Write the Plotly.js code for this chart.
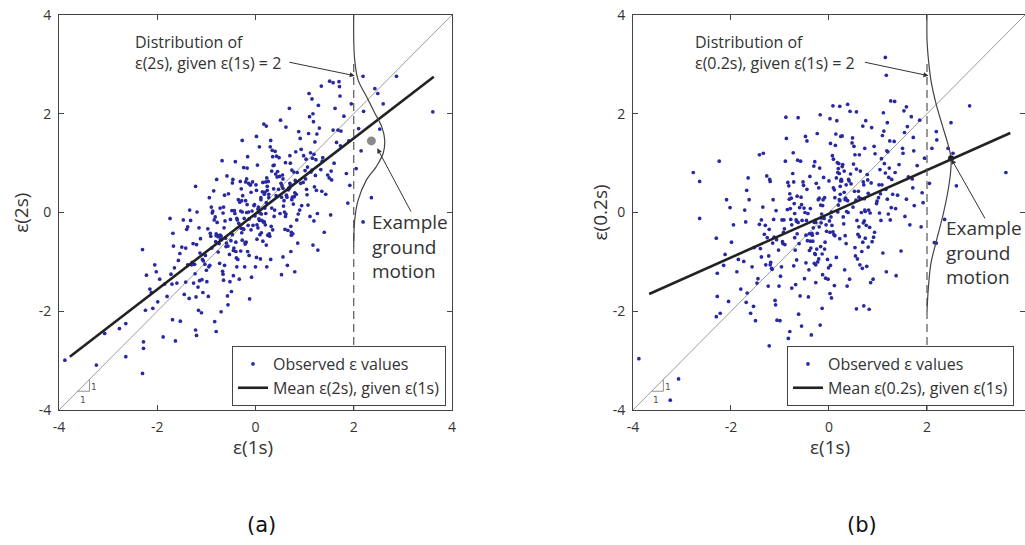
<!DOCTYPE html>
<html><head><meta charset="utf-8">
<script src="https://cdn.plot.ly/plotly-3.0.1.min.js"></script>
<style>html,body{margin:0;padding:0;background:#fff}#chart{width:1025px;height:545px}</style>
</head><body><div id="chart"></div>
<script>
// ε(1s) values (shared x for both panels)
const eps1 = [
-3.88,-3.24,-3.07,-2.77,-2.64,-2.64,-2.30,-2.28,-2.28,-2.30,
-2.24,-2.09,-2.05,-2.22,-1.99,-1.88,-2.15,-1.95,-2.12,-1.80,-2.02,-1.85,
-1.72,-1.45,-1.32,-1.60,-1.27,-1.53,-1.38,-1.67,-1.42,-1.74,-1.35,-1.57,-1.30,-1.50,-1.63,-1.40,-1.70,-1.47,-1.26,-1.65,-1.69,-1.42,-1.29,
-1.22,-0.95,-0.82,-1.10,-0.77,-1.03,-0.88,-1.17,-0.92,-1.24,-0.85,-1.07,-0.80,-1.00,-1.13,-0.90,-1.20,-0.97,-0.76,-1.15,-1.14,-0.76,-0.96,-1.19,-0.89,-1.12,-0.99,-0.79,-1.06,-0.84,-1.23,-0.91,-1.16,-0.87,-1.02,-0.78,-1.09,-0.81,-0.94,-1.21,-1.20,-0.93,-0.80,-1.08,
-0.72,-0.45,-0.32,-0.60,-0.27,-0.53,-0.38,-0.67,-0.42,-0.74,-0.35,-0.57,-0.30,-0.50,-0.63,-0.40,-0.70,-0.47,-0.26,-0.65,-0.64,-0.27,-0.46,-0.69,-0.39,-0.62,-0.49,-0.29,-0.56,-0.34,-0.73,-0.41,-0.66,-0.37,-0.52,-0.28,-0.59,-0.31,-0.44,-0.71,-0.70,-0.43,-0.30,-0.58,-0.25,-0.51,-0.36,-0.65,-0.40,-0.72,-0.33,-0.55,-0.28,-0.48,-0.61,-0.38,-0.68,-0.45,-0.27,-0.63,-0.66,-0.29,-0.47,
-0.22,0.05,0.18,-0.10,0.23,-0.03,0.12,-0.17,0.08,-0.24,0.15,-0.07,0.20,0.01,-0.13,0.10,-0.20,0.03,0.24,-0.15,-0.14,0.25,0.04,-0.19,0.11,-0.12,0.02,0.21,-0.06,0.16,-0.23,0.09,-0.16,0.13,-0.02,0.22,-0.09,0.19,0.06,-0.21,-0.18,0.07,0.19,-0.08,0.23,-0.01,0.14,-0.16,0.11,-0.21,0.17,-0.05,0.21,0.02,-0.11,0.12,-0.18,0.05,0.24,-0.13,-0.17,0.22,0.03,-0.20,0.09,-0.14,0.00,0.18,-0.09,0.15,-0.24,0.08,
0.28,0.55,0.68,0.40,0.73,0.47,0.62,0.33,0.58,0.26,0.65,0.43,0.70,0.50,0.37,0.60,0.30,0.53,0.74,0.35,0.36,0.75,0.54,0.31,0.61,0.38,0.51,0.71,0.44,0.66,0.27,0.59,0.34,0.63,0.48,0.72,0.41,0.69,0.56,0.29,0.31,0.57,0.70,0.42,0.73,0.49,0.64,0.35,0.61,0.27,0.67,0.45,0.72,0.52,0.39,0.62,0.32,0.56,0.74,0.38,0.33,0.71,0.53,
0.78,1.05,1.18,0.90,1.23,0.97,1.12,0.83,1.08,0.76,1.15,0.93,1.20,1.01,0.87,1.10,0.80,1.03,1.24,0.85,0.86,1.25,1.04,0.81,1.11,0.88,1.02,1.21,0.94,1.16,0.77,1.09,0.84,1.13,0.98,1.22,0.91,1.19,1.06,0.79,0.82,1.07,1.19,0.92,
1.28,1.55,1.68,1.40,1.73,1.47,1.62,1.33,1.58,1.26,1.65,1.43,1.70,1.50,1.37,1.60,1.30,1.53,1.74,1.35,1.36,1.72,1.54,
1.88,1.85,2.05,2.19,2.19,1.90,2.10,1.95,2.15,1.80,2.20,1.92,2.36,2.53,2.49,2.43,2.60,2.87,3.61,
1.58,1.51,1.71,1.34,0.69,0.22,0.02,-1.34,-1.38,-1.68,-1.54,0.80,0.56,1.27,1.17,-1.22,-0.80,-0.83,-0.56,1.15,1.17
];
// ε(2s) values (panel a)
const eps2 = [
-2.99,-3.09,-2.45,-2.35,-2.92,-2.25,-3.26,-2.62,-2.75,-0.75,
-1.98,-1.94,-1.06,-1.27,-1.81,-2.52,-1.55,-1.35,-1.62,-1.70,-1.20,-1.45,
-1.25,-1.66,-0.16,-1.43,-0.63,-2.20,-1.06,-0.68,-1.41,-0.12,-1.74,-0.97,-1.06,-0.70,-2.60,-0.34,-1.45,-0.15,-1.43,-1.12,-2.17,-0.72,-1.01,
0.53,-1.10,-0.09,-2.03,-0.47,-1.05,-0.01,-1.51,-0.42,-1.05,0.44,-1.62,-0.43,-1.17,-0.82,0.11,-2.49,-0.33,-0.80,-0.31,-1.38,-0.49,-1.70,0.01,-0.72,-0.53,-1.40,0.67,-0.98,-0.15,-1.24,-0.48,-1.98,0.03,-0.87,-0.20,-1.36,-0.59,0.30,-1.71,-0.65,-1.07,-0.47,-0.95,
0.09,-1.28,0.21,-0.69,1.46,-0.85,-0.12,-1.19,-0.02,-0.63,0.26,-1.69,0.03,-0.57,0.35,-0.79,-0.48,-0.45,0.34,-1.37,-0.31,-0.56,0.67,-0.55,-0.92,-0.17,-1.60,0.48,-0.68,-0.22,-1.03,1.03,-1.25,-0.15,-1.40,0.24,-0.62,0.63,-0.72,-0.54,-2.01,0.04,-0.78,0.74,-0.33,-0.14,-0.95,0.11,-0.60,-0.46,-1.35,0.38,-0.41,0.04,-0.52,-1.10,1.05,-0.77,0.01,-1.07,-0.01,-0.32,0.60,
-1.10,0.07,-0.19,0.56,-1.10,0.14,-0.41,0.16,-0.16,0.91,-0.58,0.03,-0.25,0.56,-0.13,-0.94,0.62,-0.25,0.53,-0.26,0.01,-0.46,0.96,-0.60,0.30,-1.75,0.45,-0.02,0.62,-0.19,-0.12,-0.45,1.13,-0.16,0.16,-0.66,0.41,0.09,0.11,-0.64,0.68,-0.13,0.41,-1.31,0.70,-0.07,0.42,-0.79,0.26,-0.61,1.79,-0.26,0.62,-0.91,0.56,-0.03,0.00,-0.31,0.45,-0.87,0.90,0.20,-0.54,0.24,-0.01,0.59,-1.10,0.37,-0.35,0.61,-0.34,1.33,
-0.43,0.76,0.50,1.24,-0.40,0.47,-0.03,0.84,0.24,0.63,-1.07,1.14,0.59,-0.02,0.48,-0.34,1.33,0.31,0.86,-0.35,0.95,0.31,0.54,-0.95,1.01,-0.08,1.87,0.54,0.72,-0.36,0.37,0.01,1.26,0.35,1.11,-0.79,0.78,0.49,0.68,-0.48,1.46,0.13,1.15,0.34,-0.46,0.73,0.31,1.13,-0.08,0.30,0.46,0.83,-0.28,0.59,0.05,1.73,-0.28,0.49,0.26,0.96,0.09,1.00,-1.26,
0.82,0.36,1.84,0.05,1.07,0.61,1.21,0.37,1.60,-0.43,0.86,1.28,0.52,0.85,-0.03,1.94,0.40,1.08,0.45,0.81,-0.62,1.59,0.47,0.65,-0.08,1.64,0.68,1.43,0.14,1.10,0.17,2.41,-0.15,0.82,1.15,0.75,1.50,-0.17,0.92,0.32,1.23,0.15,1.18,0.59,
2.17,0.66,1.67,-0.40,1.35,0.76,2.11,0.87,1.67,-0.02,1.42,0.37,2.65,0.70,1.11,1.00,1.71,-0.05,1.65,0.43,1.04,2.36,0.84,
0.19,0.79,0.89,2.76,-0.19,1.45,1.70,2.20,1.25,1.95,2.05,0.55,0.30,1.69,2.41,2.51,2.20,2.76,2.04,
2.63,2.66,2.55,2.56,2.11,1.75,1.54,0.05,-0.29,-0.42,-0.83,-1.20,-0.90,-0.76,-0.66,-2.38,-2.41,-2.21,-1.87,2.30,2.00
];
// ε(0.2s) values (panel b)
const eps02 = [
-2.96,-3.80,-3.37,0.81,-0.12,0.63,-2.11,-1.70,-1.23,-0.52,
1.04,0.26,-1.80,-2.04,-0.60,-1.20,-1.07,-0.25,-0.85,-1.55,0.10,-0.95,
0.05,-1.34,-0.44,-2.04,0.74,-0.71,-0.15,-1.63,1.17,-0.99,0.11,-1.10,-0.26,-2.19,0.26,-0.73,-0.19,-1.43,-0.51,0.70,-1.82,-0.24,-1.06,
-0.34,-0.59,0.54,-1.78,0.29,-0.76,1.93,-1.13,-0.15,-1.49,0.06,-0.55,0.38,-2.19,-0.14,-0.65,0.63,-1.10,-0.25,-0.62,0.26,-1.53,-0.15,-1.01,1.04,-0.50,-1.29,0.08,-2.18,0.61,-0.88,-0.33,-1.15,1.50,-1.49,-0.14,-1.87,0.27,-0.63,0.67,-1.06,-0.40,-2.41,0.04,
-1.08,1.45,-0.31,0.10,-1.06,0.62,-0.58,-0.15,-1.71,0.79,-0.42,0.31,-0.20,-1.34,1.92,-0.77,-0.02,-1.02,0.59,-0.43,1.06,-1.42,-0.16,-0.76,0.73,-2.06,0.00,-0.83,0.16,-0.46,1.21,-1.16,-0.18,-0.72,0.55,-0.16,-1.69,0.94,-0.57,0.18,-0.51,-0.02,-1.03,1.04,-0.74,0.09,-2.48,0.33,-0.43,0.62,-0.58,-0.16,-0.85,1.54,-0.63,0.08,-1.46,0.47,-0.20,-0.20,-0.96,1.03,-0.46,
0.26,-1.73,0.81,-0.12,0.53,-0.95,0.30,-0.69,2.16,-0.42,0.70,-1.33,0.99,-0.17,0.14,-0.45,0.29,-1.07,1.54,-0.03,-0.84,0.67,-0.09,0.90,-1.48,0.26,-0.40,0.79,-0.25,1.86,-1.00,0.50,-0.11,1.36,-1.35,0.24,-0.74,0.89,-0.26,0.50,-2.28,1.15,0.15,-0.60,0.37,-1.12,1.59,-0.21,0.46,-0.94,1.01,-0.38,0.26,-1.64,0.71,-0.47,1.98,0.01,0.64,-1.26,0.15,-0.53,1.40,-0.29,1.08,-1.94,0.64,0.01,0.30,-0.91,1.60,-0.39,
0.97,0.25,-1.13,0.67,0.05,1.41,-0.49,0.26,-0.94,0.64,0.28,2.05,-0.21,0.98,-1.49,0.43,-0.23,1.17,-0.52,0.56,0.02,1.86,-0.88,0.41,-0.29,0.24,1.34,-1.89,0.78,0.00,0.93,-0.44,0.29,-1.06,1.51,0.28,0.64,-0.60,2.04,-0.09,0.84,-0.16,0.62,-1.35,1.30,0.11,0.84,-0.63,0.31,1.55,-0.79,0.58,-0.17,0.43,0.00,1.17,-1.16,0.88,0.02,2.19,-0.47,0.56,-0.71,
0.77,0.38,1.25,-1.35,0.90,0.18,1.65,-0.30,0.56,-0.26,0.80,-0.40,1.23,0.30,1.72,-0.82,0.39,-0.01,1.45,-1.42,0.60,-0.15,0.87,0.05,2.02,-0.59,0.56,-0.03,1.19,0.47,-1.09,1.56,-0.01,0.99,0.23,0.71,-0.50,1.82,-0.16,0.66,-1.96,1.09,0.27,1.34,
0.67,-0.08,1.94,0.35,1.25,-0.78,0.72,1.44,0.27,2.26,-0.25,0.97,0.68,1.30,-1.28,1.74,0.37,2.06,0.14,0.81,0.08,1.52,1.62,
-0.29,1.87,0.59,1.64,-0.62,0.40,1.30,1.10,-0.61,0.95,1.47,0.20,-0.14,1.20,1.82,1.30,0.54,2.16,0.81,
2.14,1.20,0.50,2.25,1.75,2.15,1.90,1.20,-0.90,0.45,-1.90,-0.70,-1.95,0.10,-1.20,-2.70,-2.85,-2.55,-2.30,3.14,2.78
];

const tickVals = [-4, -2, 0, 2, 4];
const tickText = ['-4', '-2', '0', '2', '4'];
const unitX = [-4, 4], unitY = [-4, 4];
const meanAx = [-3.78, 3.63], meanAy = [-2.92, 2.75];
const meanBx = [-3.67, 3.70], meanBy = [-1.65, 1.61];
const dashX = [2, 2], dashY = [-4, 3.1];
const distAx = [2.00, 2.00, 2.02, 2.09, 2.26, 2.43, 2.57, 2.63, 2.60, 2.46, 2.26, 2.09, 2.02, 2.00];
const distAy = [4.00, 3.50, 3.09, 2.68, 2.35, 2.01, 1.74, 1.47, 1.20, 0.93, 0.66, 0.25, -0.15, -0.69];
const distBx = [2.00, 2.00, 2.03, 2.08, 2.18, 2.32, 2.42, 2.49, 2.48, 2.42, 2.32, 2.18, 2.08, 2.03, 2.00];
const distBy = [4.00, 3.50, 3.09, 2.68, 2.22, 1.74, 1.41, 1.10, 0.80, 0.39, -0.08, -0.62, -1.03, -1.50, -2.00];
const exampleA = {x: [2.36], y: [1.45]};
const exampleB = {x: [2.49], y: [1.10]};
const triX = [-3.62, -3.38, -3.38], triY = [-3.62, -3.62, -3.38];

const FONT = 'Open Sans, Noto Sans, sans-serif';
const TXT = '#333';
const AX = '#444';
const DOT = 'rgb(40,40,160)';

function axis(domain, anchor) {
  return {
    domain: domain, anchor: anchor, range: [-4, 4], tickvals: tickVals, ticktext: tickText,
    showgrid: false, zeroline: false, showline: true, linecolor: AX, linewidth: 1,
    mirror: 'ticks', ticks: 'inside', ticklen: 5, tickcolor: AX, ticklabelstandoff: 4,
    tickfont: {family: FONT, size: 14, color: TXT}, fixedrange: true
  };
}

const traces = [];
function panel(xa, ya, yVals, mX, mY, dX, dY, ex, exColor, exSize, legendId, meanName) {
  traces.push({x: unitX, y: unitY, xaxis: xa, yaxis: ya, mode: 'lines', line: {color: '#9a9a9a', width: 1}, showlegend: false, hoverinfo: 'skip'});
  traces.push({x: eps1, y: yVals, xaxis: xa, yaxis: ya, mode: 'markers', name: 'Observed ε values',
    marker: {color: DOT, size: 3.7}, legend: legendId, showlegend: true});
  traces.push({x: mX, y: mY, xaxis: xa, yaxis: ya, mode: 'lines', name: meanName,
    line: {color: '#222', width: 2.6}, legend: legendId, showlegend: true});
  traces.push({x: dashX, y: dashY, xaxis: xa, yaxis: ya, mode: 'lines', line: {color: '#555', width: 1.2, dash: '8px,5px'}, showlegend: false, hoverinfo: 'skip'});
  traces.push({x: dX, y: dY, xaxis: xa, yaxis: ya, mode: 'lines', line: {color: '#444', width: 1.2, shape: 'spline', smoothing: 1}, showlegend: false, hoverinfo: 'skip'});
  traces.push({x: triX, y: triY, xaxis: xa, yaxis: ya, mode: 'lines', line: {color: '#777', width: 0.8}, showlegend: false, hoverinfo: 'skip'});
  traces.push({x: ex.x, y: ex.y, xaxis: xa, yaxis: ya, mode: 'markers', marker: {color: exColor, size: exSize}, showlegend: false});
}
panel('x', 'y', eps2, meanAx, meanAy, distAx, distAy, exampleA, '#8a8a8a', 9, 'legend', 'Mean ε(2s), given ε(1s)');
panel('x2', 'y2', eps02, meanBx, meanBy, distBx, distBy, exampleB, '#222', 6, 'legend2', 'Mean ε(0.2s), given ε(1s)');

function txt(xref, yref, x, y, text, size, opts) {
  return Object.assign({xref: xref, yref: yref, x: x, y: y, text: text, showarrow: false,
    font: {family: FONT, size: size, color: TXT}}, opts || {});
}
function arrow(xref, yref, x, y, ax, ay) {
  return {xref: xref, yref: yref, axref: xref, ayref: yref, x: x, y: y, ax: ax, ay: ay, text: '',
    showarrow: true, arrowhead: 2, arrowsize: 1, arrowwidth: 1, arrowcolor: '#333'};
}

const annotations = [
  txt('x', 'y', -2.49, 3.25, 'Distribution of<br>ε(2s), given ε(1s) = 2', 16, {xanchor: 'left', yanchor: 'middle', align: 'left'}),
  arrow('x', 'y', 2.02, 2.77, 0.66, 3.05),
  txt('x', 'y', 2.34, -0.69, 'Example<br>ground<br>motion', 19, {xanchor: 'left', yanchor: 'middle', align: 'left'}),
  arrow('x', 'y', 2.48, 1.30, 3.18, -0.01),
  txt('x', 'y', -3.52, -3.79, '1', 10, {font: {family: 'DejaVu Sans, sans-serif', size: 9, color: '#555'}}),
  txt('x', 'y', -3.29, -3.54, '1', 10, {font: {family: 'DejaVu Sans, sans-serif', size: 9, color: '#555'}}),
  txt('x2', 'y2', -2.77, 3.25, 'Distribution of<br>ε(0.2s), given ε(1s) = 2', 16, {xanchor: 'left', yanchor: 'middle', align: 'left'}),
  arrow('x2', 'y2', 2.03, 2.77, 0.70, 3.05),
  txt('x2', 'y2', 2.35, -0.82, 'Example<br>ground<br>motion', 19, {xanchor: 'left', yanchor: 'middle', align: 'left'}),
  arrow('x2', 'y2', 2.50, 1.08, 3.20, -0.15),
  txt('x2', 'y2', -3.53, -3.79, '1', 10, {font: {family: 'DejaVu Sans, sans-serif', size: 9, color: '#555'}}),
  txt('x2', 'y2', -3.28, -3.54, '1', 10, {font: {family: 'DejaVu Sans, sans-serif', size: 9, color: '#555'}}),
  txt('paper', 'paper', 0.2008, -0.094, 'ε(1s)', 19, {xanchor: 'center', yanchor: 'middle'}),
  txt('paper', 'paper', 0.798, -0.094, 'ε(1s)', 19, {xanchor: 'center', yanchor: 'middle'}),
  txt('paper', 'paper', -0.040, 0.5, 'ε(2s)', 19, {xanchor: 'center', yanchor: 'middle', textangle: -90}),
  txt('paper', 'paper', 0.560, 0.5, 'ε(0.2s)', 19, {xanchor: 'center', yanchor: 'middle', textangle: -90}),
  {xref: 'paper', yref: 'paper', x: 0.210, y: -0.291, text: '(a)', showarrow: false, xanchor: 'center', yanchor: 'middle', font: {family: 'DejaVu Sans, sans-serif', size: 21, color: '#111'}},
  {xref: 'paper', yref: 'paper', x: 0.831, y: -0.291, text: '(b)', showarrow: false, xanchor: 'center', yanchor: 'middle', font: {family: 'DejaVu Sans, sans-serif', size: 21, color: '#111'}}
];

const legendBase = {bgcolor: '#fff', bordercolor: AX, borderwidth: 1, font: {family: FONT, size: 16, color: TXT},
  yanchor: 'bottom', y: 0.010, tracegroupgap: 0, itemwidth: 30};

const layout = {
  width: 1025, height: 545, margin: {l: 59, r: 0, t: 15, b: 135},
  paper_bgcolor: '#fff', plot_bgcolor: '#fff', showlegend: true,
  font: {family: FONT, color: TXT},
  xaxis: axis([0, 0.4068], 'y'),
  yaxis: axis([0, 1], 'x'),
  xaxis2: axis([0.5942, 1.0], 'y2'),
  yaxis2: axis([0, 1], 'x2'),
  legend: Object.assign({}, legendBase, {x: 0.4006, xanchor: 'right'}),
  legend2: Object.assign({}, legendBase, {x: 0.7536, xanchor: 'left'}),
  annotations: annotations
};

Plotly.newPlot('chart', traces, layout, {displayModeBar: false, staticPlot: true});
</script>
</body></html>
